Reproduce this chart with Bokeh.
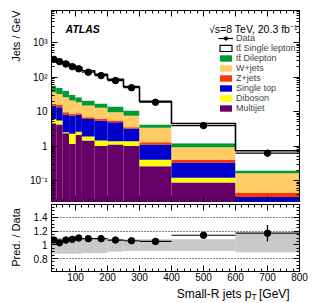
import numpy as np
from bokeh.plotting import figure
from bokeh.layouts import column, row
from bokeh.models import (Range1d, LogTicker, SingleIntervalTicker, LinearAxis, LogAxis,
                          Legend, LegendItem, CustomJSTickFormatter, CustomLabelingPolicy)
from bokeh.core.properties import value
from bokeh.embed import file_html
from bokeh.resources import INLINE

# ---------------- data ----------------
bin_edges = [25, 40, 60, 80, 100, 120, 160, 200, 250, 300, 400, 600, 800]
data = [325, 280, 240, 200, 173, 138, 110, 79, 49, 18.6, 3.9, 0.62]
data_err = [3, 3, 3, 3, 3, 2, 2, 1.5, 1, 0.3, 0.1, 0.05]

tt_single = [294, 242, 219, 188, 166, 131, 104, 72, 42, 15.5, 3.3, 0.535]
tt_dilep = [21, 17, 14, 9, 7.4, 6, 4.2, 4.4, 3.1, 0.8, 0.28, 0.032]
wjets = [19.3, 16, 16.4, 12.4, 9.7, 8.2, 6.7, 4.1, 4.1, 2.11, 0.52, 0.12]
zjets = [1.7, 2.7, 1.4, 1.0, 0.9, 0.7, 0.6, 0.6, 0.3, 0.19, 0.07, 0.01]
single_top = [8.9, 7.8, 5.7, 5.35, 5.4, 4.2, 4.06, 3.52, 1.82, 0.70, 0.21, 0.013]
diboson = [1.5, 1.3, 0.15, 1.1, 0.5, 0.46, 0.44, 0.28, 0.38, 0.14, 0.033, 0.008]
multijet = [4.6, 4.2, 2.35, 1.15, 2.1, 1.44, 1.0, 1.1, 1.0, 0.26, 0.087, 0.012]

ratio = [1.07, 1.03, 1.07, 1.08, 1.10, 1.09, 1.09, 1.07, 1.06, 1.05, 1.14, 1.17]
ratio_err = [0.01, 0.01, 0.01, 0.01, 0.01, 0.01, 0.01, 0.01, 0.012, 0.015, 0.03, 0.12]
band_lo = [0.87, 0.87, 0.87, 0.87, 0.87, 0.88, 0.88, 0.90, 0.91, 0.91, 0.91, 0.89]
band_hi = [1.10, 1.10, 1.10, 1.10, 1.10, 1.10, 1.09, 1.09, 1.08, 1.08, 1.08, 1.16]

stack_names = ["Multijet", "Diboson", "Single top", "Z+jets", "W+jets",
               "tt\u0304 Dilepton", "tt\u0304 Single lepton"]
stack_values = [multijet, diboson, single_top, zjets, wjets, tt_dilep, tt_single]
stack_colors = ["#660066", "#ffff00", "#0000cc", "#ff3300", "#ffcc66", "#009933", "#ffffff"]

FONT = "Liberation Sans"

left = np.array(bin_edges[:-1], dtype=float)
right = np.array(bin_edges[1:], dtype=float)
centers = (left + right) / 2

HIDE = CustomLabelingPolicy(code="""
try { for (const i of Array.from(indices)) { indices.unset(i) } } catch (e) {}
return indices
""")


def style_axis(ax, labels=True, size="10px"):
    ax.axis_line_color = "black"
    ax.major_tick_in = 6
    ax.major_tick_out = 0
    ax.minor_tick_in = 3
    ax.minor_tick_out = 0
    ax.major_tick_line_color = "black"
    ax.minor_tick_line_color = "black"
    ax.major_label_text_font = FONT
    ax.major_label_text_color = "black"
    if labels:
        ax.major_label_text_font_size = size
        ax.major_label_standoff = 4
    else:
        ax.major_label_text_font_size = "1px"
        ax.major_label_text_alpha = 0
        ax.major_label_standoff = 0
        ax.major_label_policy = HIDE


def blank_strip(w, h):
    f = figure(width=w, height=h, x_range=Range1d(0, w), y_range=Range1d(0, h),
               output_backend="svg", toolbar_location=None,
               min_border_left=0, min_border_right=0, min_border_top=0, min_border_bottom=0)
    f.axis.visible = False
    f.grid.visible = False
    f.outline_line_color = None
    return f


log_fmt = CustomJSTickFormatter(code="""
const e = Math.round(Math.log10(tick));
const sup = {"-3":"\u207b\u00b3","-2":"\u207b\u00b2","-1":"\u207b\u00b9","2":"\u00b2","3":"\u00b3","4":"\u2074"};
if (e == 0) return "1";
if (e == 1) return "10";
return "10" + sup[String(e)];
""")

# ---------------- main panel ----------------
p1 = figure(width=294, height=202, x_range=Range1d(25, 800),
            y_range=Range1d(0.023, 8500), y_axis_type="log",
            output_backend="svg", toolbar_location=None,
            min_border_left=29, min_border_right=17, min_border_top=10, min_border_bottom=0)
p1.grid.visible = False
p1.outline_line_color = "black"

bottom = np.full(len(left), 1e-4)
stack_renderers = []
for vals, color in zip(stack_values, stack_colors):
    top = bottom + np.array(vals)
    r = p1.quad(left=left, right=right, bottom=bottom, top=top,
                fill_color=color, line_color=None)
    stack_renderers.append(r)
    bottom = top
total = bottom

p1.step(x=bin_edges, y=list(total) + [total[-1]], mode="after",
        line_color="black", line_width=1.6)

d = np.array(data)
de = np.array(data_err)
data_h = p1.segment(x0=left, y0=d, x1=right, y1=d, line_color="black", line_width=1.2)
p1.segment(x0=centers, y0=d - de, x1=centers, y1=d + de, line_color="black", line_width=1.2)
data_pt = p1.scatter(x=centers, y=d, size=6.5, color="black")

p1.yaxis.ticker = LogTicker(num_minor_ticks=10)
p1.yaxis.formatter = log_fmt
style_axis(p1.yaxis[0])
p1.xaxis.ticker = SingleIntervalTicker(interval=100, num_minor_ticks=5)
style_axis(p1.xaxis[0], labels=False)

ax_top = LinearAxis(ticker=SingleIntervalTicker(interval=100, num_minor_ticks=5))
style_axis(ax_top, labels=False)
p1.add_layout(ax_top, "above")
ax_right = LogAxis(ticker=LogTicker(num_minor_ticks=10))
style_axis(ax_right, labels=False)
p1.add_layout(ax_right, "right")

# legend swatch for the outlined single-lepton box (degenerate, not visible in plot)
leg_box = p1.quad(left=left[:1], right=left[:1], bottom=total[:1], top=total[:1],
                  fill_color="white", line_color="black", line_width=1.2)
items = [LegendItem(label="Data", renderers=[data_h, data_pt]),
         LegendItem(label=stack_names[6], renderers=[leg_box])]
for i in [5, 4, 3, 2, 1, 0]:
    items.append(LegendItem(label=stack_names[i], renderers=[stack_renderers[i]]))
legend = Legend(items=items, location=(167, 89),
                glyph_width=15, glyph_height=8, label_height=10, spacing=0,
                label_standoff=3, padding=0, margin=0,
                label_text_font=FONT, label_text_font_size="9px",
                border_line_alpha=0, background_fill_alpha=0)
p1.add_layout(legend, "center")

p1.text(x=[69], y=[2500], text=["ATLAS"], text_font=value(FONT),
        text_font_style="bold italic", text_font_size="10.5px", text_baseline="middle")
p1.text(x=[794], y=[2500], text=["\u221as=8 TeV, 20.3 fb\u207b\u00b9"], text_align="right",
        text_font=value(FONT), text_font_size="10.5px", text_baseline="middle")

# ---------------- ratio panel ----------------
p2 = figure(width=294, height=83, x_range=p1.x_range,
            y_range=Range1d(0.61, 1.59),
            output_backend="svg", toolbar_location=None,
            min_border_left=29, min_border_right=17, min_border_top=2, min_border_bottom=14)
p2.outline_line_color = "black"
p2.xgrid.visible = False
p2.ygrid.ticker = SingleIntervalTicker(interval=0.2, num_minor_ticks=4)
p2.ygrid.grid_line_color = "black"
p2.ygrid.grid_line_dash = "1 2"
p2.ygrid.grid_line_width = 1

p2.quad(left=left, right=right, bottom=band_lo, top=band_hi,
        fill_color="#c8c8c8", line_color=None)
r = np.array(ratio)
re = np.array(ratio_err)
p2.segment(x0=left, y0=r, x1=right, y1=r, line_color="black", line_width=1.2)
p2.segment(x0=centers, y0=r - re, x1=centers, y1=r + re, line_color="black", line_width=1.2)
p2.scatter(x=centers, y=r, size=6.5, color="black")

p2.yaxis.ticker = SingleIntervalTicker(interval=0.2, num_minor_ticks=4)
p2.yaxis.formatter = CustomJSTickFormatter(code="return tick.toFixed(1).replace(/\\.0$/, '');")
style_axis(p2.yaxis[0])
p2.xaxis.ticker = SingleIntervalTicker(interval=100, num_minor_ticks=5)
style_axis(p2.xaxis[0])
p2.xaxis.major_label_standoff = 1

ax_top2 = LinearAxis(ticker=SingleIntervalTicker(interval=100, num_minor_ticks=5))
style_axis(ax_top2, labels=False)
p2.add_layout(ax_top2, "above")
ax_right2 = LinearAxis(ticker=SingleIntervalTicker(interval=0.2, num_minor_ticks=4))
style_axis(ax_right2, labels=False)
p2.add_layout(ax_right2, "right")

# ---------------- x-axis title strip (text with subscript) ----------------
p3 = blank_strip(294, 18)
p3.text(x=[237], y=[10], text=["Small-R jets p"], text_align="right", text_baseline="middle",
        text_font=value(FONT), text_font_size="12px")
p3.text(x=[237], y=[6.5], text=["T"], text_align="left", text_baseline="middle",
        text_font=value(FONT), text_font_size="8.5px")
p3.text(x=[246], y=[10], text=["[GeV]"], text_align="left", text_baseline="middle",
        text_font=value(FONT), text_font_size="12px")

# ---------------- y-axis title strip ----------------
pl = blank_strip(22, 303)
pl.text(x=[15], y=[293], text=["Jets / GeV"], angle=np.pi / 2, text_align="right",
        text_baseline="middle", text_font=value(FONT), text_font_size="11px")
pl.text(x=[15], y=[66], text=["Pred. / Data"], angle=np.pi / 2, text_align="center",
        text_baseline="middle", text_font=value(FONT), text_font_size="11px")

layout = row(pl, column(p1, p2, p3, spacing=0), spacing=0)
open("out.html", "w", encoding="utf-8").write(file_html(layout, INLINE))
